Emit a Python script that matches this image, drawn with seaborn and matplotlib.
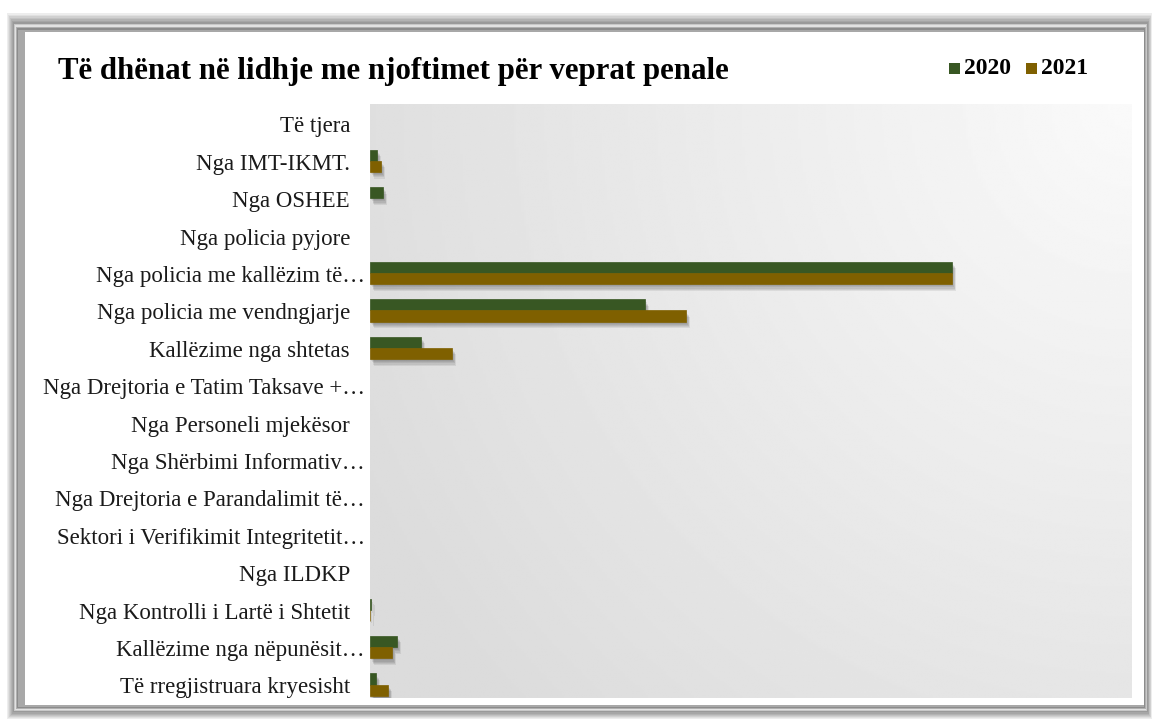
import numpy as np
import pandas as pd
import seaborn as sns
import matplotlib.pyplot as plt
import matplotlib.patheffects as pe
import matplotlib.transforms as mtransforms
from matplotlib.patches import Rectangle

# categories top -> bottom
categories = [
    "Të tjera",
    "Nga IMT-IKMT.",
    "Nga OSHEE",
    "Nga policia pyjore",
    "Nga policia me kallëzim të…",
    "Nga policia me vendngjarje",
    "Kallëzime nga shtetas",
    "Nga Drejtoria e Tatim Taksave +…",
    "Nga Personeli mjekësor",
    "Nga Shërbimi Informativ…",
    "Nga Drejtoria e Parandalimit të…",
    "Sektori i Verifikimit Integritetit…",
    "Nga ILDKP",
    "Nga Kontrolli i Lartë i Shtetit",
    "Kallëzime nga nëpunësit…",
    "Të rregjistruara kryesisht",
]
years = ["2020", "2021"]
values_2020 = [0, 7, 13, 0, 582, 275, 51, 0, 0, 0, 0, 0, 0, 0.5, 27, 6]
values_2021 = [0, 11, 0, 0, 582, 316, 82, 0, 0, 0, 0, 0, 0, 0.3, 22, 18]
colors = ["#385723", "#7F6000"]

df = pd.DataFrame({
    "kategoria": categories * 2,
    "viti": [years[0]] * len(categories) + [years[1]] * len(categories),
    "vlera": values_2020 + values_2021,
})

W, H = 1153, 720
fig = plt.figure(figsize=(W / 100, H / 100), dpi=100)
fig.patch.set_facecolor("white")


def px_rect(x0, y0, x1, y1, **kw):
    return Rectangle((x0 / W, 1 - y1 / H), (x1 - x0) / W, (y1 - y0) / H,
                     transform=fig.transFigure, **kw)


# bevelled frame (behind the axes): light outside, darker towards the inside
bevel = ["#ededed", "#e0e0e0", "#d0d0d0", "#c2c2c2", "#b3b3b3", "#a6a6a6",
         "#9a9a9a", "#c8c8c8", "#e2e2e2", "#b0b0b0", "#8c8c8c", "#a8a8a8"]
for k, col in enumerate(bevel):
    fig.patches.append(px_rect(7 + k, 13 + k * 1.5, 1152 - k * 0.7, 719 - k * 1.1,
                               facecolor=col, edgecolor="none", zorder=-5))
fig.patches.append(px_rect(25, 32, 1144, 705, facecolor="white", edgecolor="none", zorder=-5))

ax = fig.add_axes([370 / W, 1 - 698 / H, (1132 - 370) / W, (698 - 104) / H])
ax.set_facecolor("none")

# soft gradient behind the plot area (grey top-left, near white bottom-right)
gx, gy = np.meshgrid(np.linspace(0, 1, 300), np.linspace(0, 1, 300))
dist = np.sqrt((1 - gx) ** 2 * 0.85 + (gy) ** 2 * 0.5)
shade = 0.98 - 0.12 * np.clip(dist / 1.05, 0, 1)
ax.imshow(shade, cmap="gray", vmin=0, vmax=1, extent=[0, 1, 0, 1], origin="upper",
          transform=ax.transAxes, aspect="auto", zorder=0, interpolation="bilinear")

sns.barplot(data=df, y="kategoria", x="vlera", hue="viti", order=categories,
            hue_order=years, palette=colors, orient="h", width=0.6,
            ax=ax, zorder=3, legend=False, saturation=1)

# soft drop shadow
shadow = [pe.SimplePatchShadow(offset=(1.0 + 0.5 * k, -1.5 - 0.8 * k),
                               shadow_rgbFace="black", alpha=0.07) for k in range(5)]
shadow.append(pe.Normal())
for bar in ax.patches:
    if bar.get_width() > 0:
        bar.set_path_effects(shadow)
        bar.set_edgecolor(bar.get_facecolor())
        bar.set_linewidth(0.5)

ax.set_xlim(0, 762)
ax.set_ylim(15.36, -0.52)
ax.set_xlabel("")
ax.set_ylabel("")
ax.set_xticks([])
ax.set_yticks(range(len(categories)))
ax.set_yticklabels([])
ax.tick_params(axis="y", length=0)
for s in ax.spines.values():
    s.set_visible(False)

# category labels: truncated ones run up to the plot edge, like the original
lbl_trans = mtransforms.blended_transform_factory(fig.transFigure, ax.transData)
for i, cat in enumerate(categories):
    x_right = 365 if cat.endswith("…") else 350
    ax.text(x_right / W, i + 0.09, cat, transform=lbl_trans, ha="right", va="center",
            fontsize=16.5, family="Liberation Serif", color="#1a1a1a", clip_on=False)

fig.text(58 / W, 1 - 72 / H, "Të dhënat në lidhje me njoftimet për veprat penale",
         fontsize=22.2, fontweight="bold", family="Liberation Serif", va="center", ha="left")

# legend
lx = 949
for yr, c in zip(years, colors):
    fig.patches.append(px_rect(lx, 63, lx + 11, 74, facecolor=c, edgecolor="none"))
    fig.text((lx + 15) / W, 1 - 69 / H, yr, fontsize=17, fontweight="bold",
             family="Liberation Serif", va="center", ha="left")
    lx += 77

fig.savefig("out.png", dpi=100)
